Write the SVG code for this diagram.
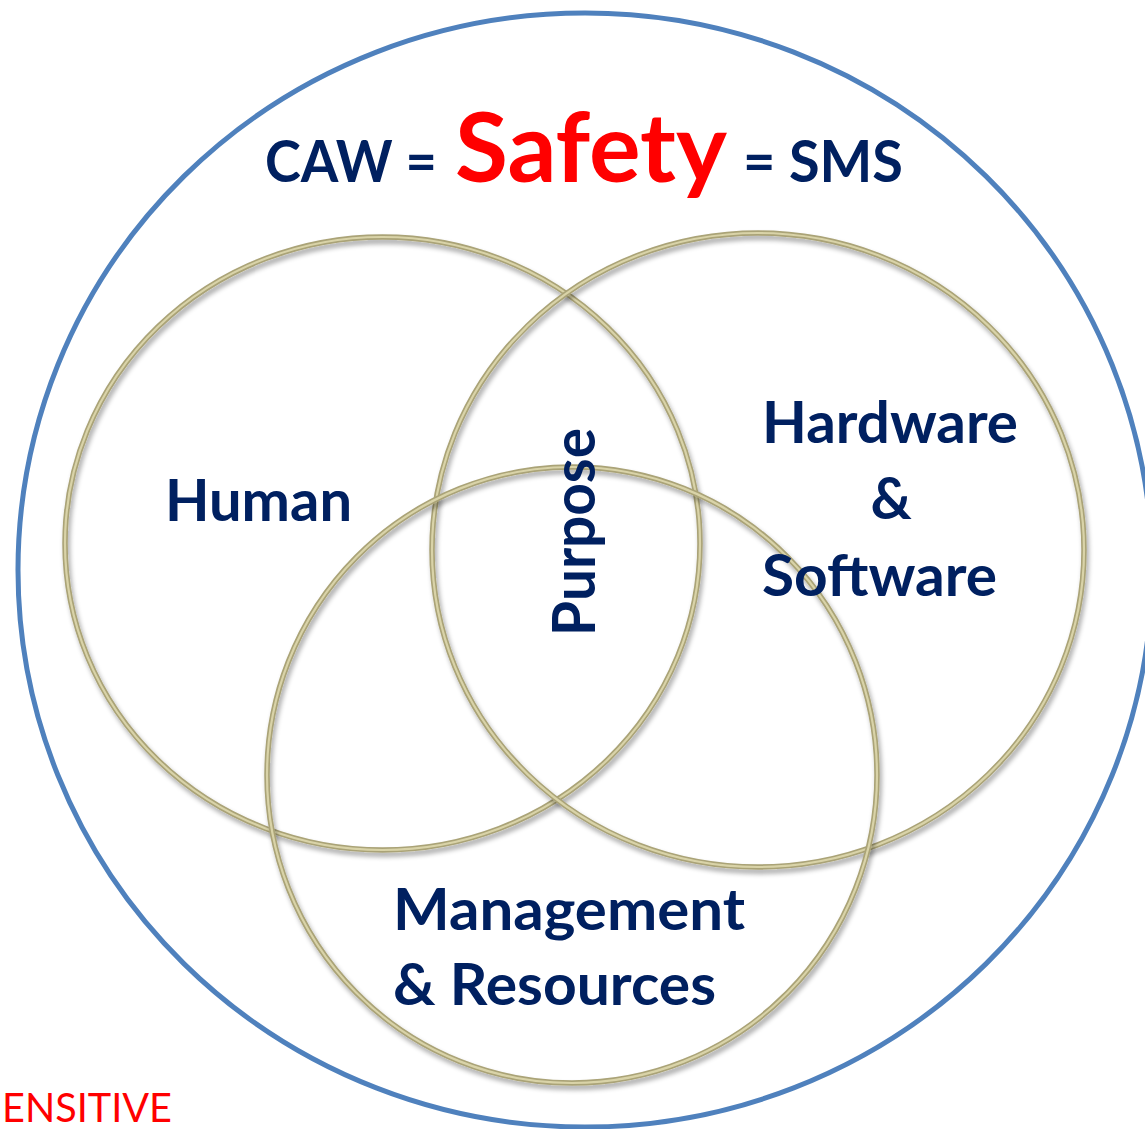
<svg xmlns="http://www.w3.org/2000/svg" width="1145" height="1129" viewBox="0 0 1145 1129">
<defs>
<style>
.ring-o{fill:none;stroke:#aaa377;stroke-width:5.5}
.ring-i{fill:none;stroke:#d9d3a8;stroke-width:2.2}
.lbl{font-family:Lato,"Open Sans","Liberation Sans",sans-serif;font-weight:700;fill:#002060}
.red{fill:#ff0000}
</style>
<filter id="sh" x="-10%" y="-10%" width="120%" height="120%">
<feGaussianBlur in="SourceAlpha" stdDeviation="2.5"/>
<feOffset dx="2" dy="4" result="b"/>
<feComponentTransfer><feFuncA type="linear" slope="0.35"/></feComponentTransfer>
<feMerge><feMergeNode/><feMergeNode in="SourceGraphic"/></feMerge>
</filter>
</defs>
<rect width="1145" height="1129" fill="#ffffff"/>
<g id="outer">
<ellipse cx="585" cy="570" rx="567" ry="557" fill="none" stroke="#4f81bd" stroke-width="5"/>
</g>
<g id="title">
<text class="lbl" x="265" y="182" font-size="58" textLength="172" lengthAdjust="spacingAndGlyphs">CAW =</text>
<text class="lbl red" x="455" y="182" font-size="96" textLength="272" lengthAdjust="spacingAndGlyphs">Safety</text>
<text class="lbl" x="743" y="182" font-size="58" textLength="160" lengthAdjust="spacingAndGlyphs">= SMS</text>
</g>
<g id="human" filter="url(#sh)">
<ellipse cx="382.5" cy="543.5" rx="317.5" ry="306.5" class="ring-o"/>
<ellipse cx="382.5" cy="543.5" rx="317.5" ry="306.5" class="ring-i"/>
</g>
<g id="hardware" filter="url(#sh)">
<ellipse cx="758" cy="550" rx="326" ry="317" class="ring-o"/>
<ellipse cx="758" cy="550" rx="326" ry="317" class="ring-i"/>
</g>
<g id="management" filter="url(#sh)">
<ellipse cx="572" cy="775" rx="305" ry="308" class="ring-o"/>
<ellipse cx="572" cy="775" rx="305" ry="308" class="ring-i"/>
</g>
<g id="labels">
<text class="lbl" x="165" y="521" font-size="57" textLength="187" lengthAdjust="spacingAndGlyphs">Human</text>
<text class="lbl" x="762" y="443" font-size="57" textLength="256" lengthAdjust="spacingAndGlyphs">Hardware</text>
<text class="lbl" x="891" y="519" font-size="57" text-anchor="middle">&amp;</text>
<text class="lbl" x="762" y="596" font-size="57" textLength="235" lengthAdjust="spacingAndGlyphs">Software</text>
<text class="lbl" x="393" y="930" font-size="57" textLength="352" lengthAdjust="spacingAndGlyphs">Management</text>
<text class="lbl" x="393" y="1005" font-size="57" textLength="323" lengthAdjust="spacingAndGlyphs">&amp; Resources</text>
<text class="lbl" transform="translate(595,636) rotate(-90)" x="0" y="0" font-size="59" textLength="208" lengthAdjust="spacingAndGlyphs">Purpose</text>
</g>
<text x="2" y="1122" font-family="Lato,'Liberation Sans',sans-serif" font-size="40" fill="#ff0000" textLength="170" lengthAdjust="spacingAndGlyphs">ENSITIVE</text>
</svg>
